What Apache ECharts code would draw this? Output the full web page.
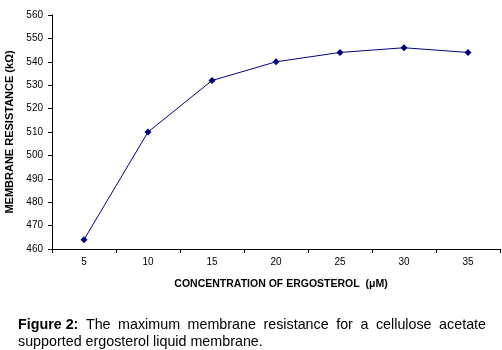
<!DOCTYPE html>
<html><head><meta charset="utf-8">
<script src="https://cdn.jsdelivr.net/npm/echarts@6/dist/echarts.min.js"></script>
<style>html,body{margin:0;padding:0;background:#fff}#c{width:502px;height:350px}</style>
</head><body><div id="c"></div>
<script>
const categories = ['5','10','15','20','25','30','35'];
const resistance = [464, 510, 532, 540, 544, 546, 544];
const yTicks = {min: 460, max: 560, interval: 10};
const xTitle = 'CONCENTRATION OF ERGOSTEROL  (μM)';
const yTitle = 'MEMBRANE RESISTANCE (kΩ)';
const captionBold = 'Figure 2:';
const captionLine1 = 'The maximum membrane resistance for a cellulose acetate';
const captionLine2 = 'supported ergosterol liquid membrane.';

const FONT = 'Arial, "Liberation Sans", sans-serif';
const CAP = 14.3;
const chart = echarts.init(document.getElementById('c'));

const ctx = document.createElement('canvas').getContext('2d');
function w(t, bold) { ctx.font = (bold ? 'bold ' : '') + CAP + 'px ' + FONT; return ctx.measureText(t).width; }
const words = [{t: captionBold, b: true}].concat(captionLine1.split(' ').map(t => ({t, b: false})));
const L = 18, R = 486;
const total = words.reduce((s, o) => s + w(o.t, o.b), 0);
const gap = (R - L - total) / (words.length - 1);
let xx = L;
const capEls = words.map(o => {
  const el = {type: 'text', left: xx, top: 318, style: {text: o.t, font: (o.b ? 'bold ' : '') + CAP + 'px ' + FONT, fill: '#000'}};
  xx += w(o.t, o.b) + gap;
  return el;
});
capEls.push({type: 'text', left: L, top: 335, style: {text: captionLine2, font: CAP + 'px ' + FONT, fill: '#000'}});

chart.setOption({
  animation: false,
  grid: {left: 52, right: 2, top: 15, bottom: 101, containLabel: false, outerBoundsMode: 'none'},
  xAxis: {
    type: 'category', data: categories, boundaryGap: true,
    axisLine: {lineStyle: {color: '#000', width: 1}},
    axisTick: {show: true, length: 4, lineStyle: {color: '#000'}},
    axisLabel: {color: '#000', fontSize: 10, fontFamily: FONT, margin: 8},
    name: xTitle, nameLocation: 'middle', nameGap: 30,
    nameTextStyle: {color: '#000', fontSize: 10.5, fontWeight: 'bold', fontFamily: FONT, padding: [0, 0, 0, 10]}
  },
  yAxis: {
    type: 'value', min: yTicks.min, max: yTicks.max, interval: yTicks.interval,
    axisLine: {show: true, lineStyle: {color: '#000', width: 1}},
    axisTick: {show: true, length: 4, lineStyle: {color: '#000'}},
    splitLine: {show: false},
    axisLabel: {color: '#000', fontSize: 10, fontFamily: FONT, margin: 9},
    name: yTitle, nameLocation: 'middle', nameGap: 31, nameRotate: 90,
    nameTextStyle: {color: '#000', fontSize: 11, fontWeight: 'bold', fontFamily: FONT}
  },
  series: [{
    type: 'line', data: resistance,
    lineStyle: {color: '#000080', width: 1},
    itemStyle: {color: '#000080'},
    symbol: 'diamond', symbolSize: 7, showSymbol: true
  }],
  graphic: capEls
});
</script></body></html>
